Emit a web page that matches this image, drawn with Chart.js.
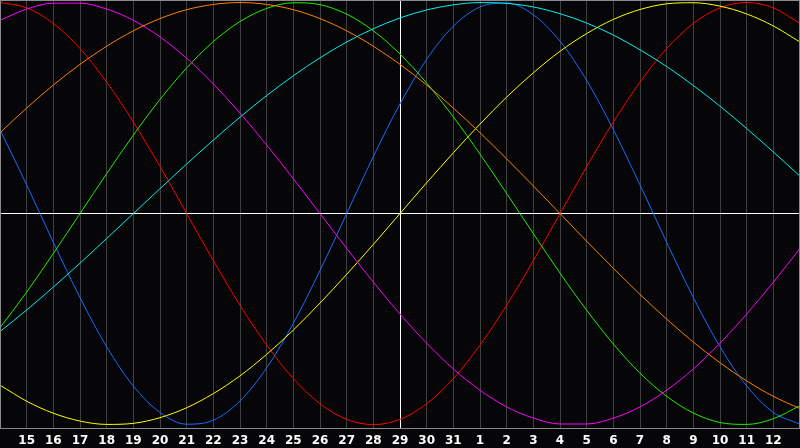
<!DOCTYPE html>
<html>
<head>
<meta charset="utf-8">
<script src="https://cdn.jsdelivr.net/npm/chart.js@4"></script>
<style>
    html, body { margin: 0; padding: 0; background: #060608; }
    #wrap { width: 800px; height: 448px; position: relative; }
</style>
</head>
<body>
<div id="wrap"><canvas id="bioChart"></canvas></div>
<script>
// days on the x axis (first and last are the chart edges, no label drawn)
const days = ['14','15','16','17','18','19','20','21','22','23','24','25','26','27','28','29','30','31',
              '1','2','3','4','5','6','7','8','9','10','11','12','13'];
const todayIndex = 15;

// curve values, -1 .. 1
const redVals = [1.00, 0.975, 0.901, 0.782, 0.623, 0.434, 0.223, 0, -0.223, -0.434, -0.623, -0.782, -0.901, -0.975, -1.00,
                 -0.975, -0.901, -0.782, -0.623, -0.434, -0.223, 0, 0.223, 0.434, 0.623, 0.782, 0.901, 0.975, 1.00, 0.975, 0.901];
const blueVals = [0.398, 0.136, -0.136, -0.398, -0.631, -0.817, -0.942, -0.998, -0.979, -0.888, -0.731, -0.520, -0.270, 0, 0.270,
                  0.520, 0.731, 0.888, 0.979, 0.998, 0.942, 0.817, 0.631, 0.398, 0.136, -0.136, -0.398, -0.631, -0.817, -0.942, -0.998];
const greenVals = [-0.541, -0.372, -0.189, 0, 0.189, 0.372, 0.541, 0.690, 0.815, 0.910, 0.972, 0.999, 0.990, 0.945, 0.866,
                   0.756, 0.618, 0.458, 0.282, 0.095, -0.095, -0.282, -0.458, -0.618, -0.756, -0.866, -0.945, -0.990, -0.999, -0.972, -0.910];
const magentaVals = [0.916, 0.969, 0.997, 0.997, 0.969, 0.916, 0.837, 0.736, 0.614, 0.476, 0.325, 0.165, 0, -0.165, -0.325,
                     -0.476, -0.614, -0.736, -0.837, -0.916, -0.969, -0.997, -0.997, -0.969, -0.916, -0.837, -0.736, -0.614, -0.476, -0.325, -0.165];
const yellowVals = [-0.813, -0.889, -0.946, -0.983, -0.999, -0.994, -0.967, -0.920, -0.853, -0.769, -0.667, -0.552, -0.424, -0.288, -0.146,
                    0, 0.146, 0.288, 0.424, 0.552, 0.667, 0.769, 0.853, 0.920, 0.967, 0.994, 0.999, 0.983, 0.946, 0.889, 0.813];
const orangeVals = [0.383, 0.500, 0.609, 0.707, 0.793, 0.866, 0.924, 0.966, 0.991, 1.00, 0.991, 0.966, 0.924, 0.866, 0.793,
                    0.707, 0.609, 0.500, 0.383, 0.259, 0.131, 0, -0.131, -0.259, -0.383, -0.500, -0.609, -0.707, -0.793, -0.866, -0.924];
const cyanVals = [-0.559, -0.457, -0.348, -0.235, -0.118, 0, 0.118, 0.235, 0.348, 0.457, 0.559, 0.653, 0.738, 0.813, 0.876,
                  0.927, 0.965, 0.989, 1.00, 0.996, 0.979, 0.947, 0.903, 0.846, 0.776, 0.697, 0.607, 0.509, 0.403, 0.292, 0.177];

function curve(data, color) {
    return {
        data: data,
        borderColor: color,
        borderWidth: 1,
        pointRadius: 0,
        fill: false,
        cubicInterpolationMode: 'monotone'
    };
}

// frame round the plot area
const framePlugin = {
    id: 'frame',
    afterDraw(chart) {
        const a = chart.chartArea;
        const c = chart.ctx;
        c.save();
        c.strokeStyle = '#8a8a8a';
        c.lineWidth = 1;
        c.strokeRect(a.left + 0.5, a.top + 0.5, a.right - a.left - 1, a.bottom - a.top);
        c.restore();
    }
};

const ctx = document.getElementById('bioChart').getContext('2d');
new Chart(ctx, {
    type: 'line',
    data: {
        labels: days,
        datasets: [
            curve(orangeVals, '#ff8000'),
            curve(magentaVals, '#ff00ff'),
            curve(cyanVals, '#00f0f0'),
            curve(greenVals, '#22ee00'),
            curve(yellowVals, '#ffff00'),
            curve(blueVals, '#1a6cff'),
            curve(redVals, '#ff0000')
        ]
    },
    options: {
        responsive: true,
        maintainAspectRatio: false,
        animation: false,
        layout: { padding: 0, autoPadding: false },
        plugins: { legend: { display: false }, tooltip: { enabled: false } },
        scales: {
            x: {
                offset: false,
                afterFit: s => { s.height = 20; s.paddingLeft = 0; s.paddingRight = 0; },
                grid: {
                    color: c => c.index === todayIndex ? '#ffffff' : '#404040',
                    drawTicks: false
                },
                border: { display: false },
                ticks: {
                    autoSkip: false,
                    maxRotation: 0,
                    padding: 6,
                    color: '#ffffff',
                    font: { family: 'DejaVu Sans', weight: 'bold', size: 12 },
                    callback: (v, i) => (i === 0 || i === days.length - 1) ? '' : days[i]
                }
            },
            y: {
                min: -1.016,
                max: 1.012,
                afterFit: s => { s.width = 0; s.paddingTop = 0; s.paddingBottom = 0; },
                afterBuildTicks: s => { s.ticks = [{ value: 0 }]; },
                grid: { color: '#ffffff', drawTicks: false },
                border: { display: false },
                ticks: { display: false }
            }
        }
    },
    plugins: [framePlugin]
});
</script>
</body>
</html>
